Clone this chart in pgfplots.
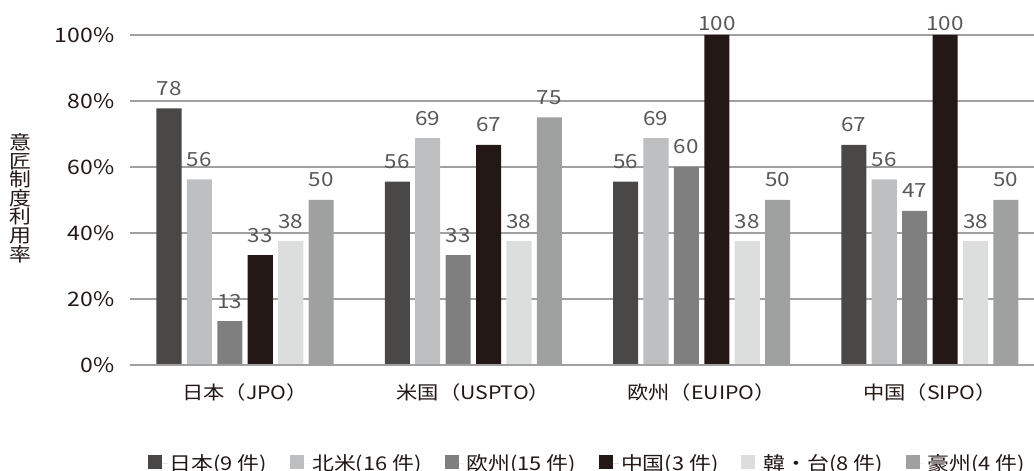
\documentclass[border=0pt]{standalone}
\usepackage{pgfplots}
\pgfplotsset{compat=1.18}
\usepackage{fontspec}
\setmainfont[FakeStretch=1.15]{Noto Sans CJK JP}
\definecolor{cA}{HTML}{4A4846}
\definecolor{cB}{HTML}{BEBFC1}
\definecolor{cC}{HTML}{7F7F7F}
\definecolor{cD}{HTML}{231815}
\definecolor{cE}{HTML}{DCDDDD}
\definecolor{cF}{HTML}{9FA0A0}
\definecolor{gridc}{HTML}{A0A0A0}
\definecolor{lblc}{HTML}{595757}
\begin{document}
\begin{tikzpicture}
\useasboundingbox (-130pt,-106pt) rectangle (904pt,365pt);
\begin{axis}[
  at={(0pt,0pt)}, anchor=south west,
  scale only axis, width=904pt, height=330pt,
  ybar, bar width=0.11,
  xmin=-0.504, xmax=3.456, ymin=0, ymax=100,
  xtick={0,1,2,3},
  xticklabels={日本（JPO）,米国（USPTO）,欧州（EUIPO）,中国（SIPO）},
  x tick label style={font=\fontsize{18.5}{21}\selectfont, text=cD, yshift=-15pt},
  ytick={0,20,40,60,80,100},
  yticklabel={\pgfmathprintnumber{\tick}\%},
  /pgf/number format/assume math mode=true,
  y tick label style={font=\fontsize{20}{22}\selectfont, text=cD, xshift=-12pt},
  major tick length=0pt,
  axis line style={draw=none},
  ymajorgrids, grid style={gridc, line width=1.3pt},
  clip=false,
  nodes near coords={\pgfmathprintnumber[fixed,precision=0]{\pgfplotspointmeta}},
  every node near coord/.append style={font=\fontsize{19.5}{22}\selectfont, text=lblc, anchor=base, yshift=13pt},
  legend columns=6,
  legend style={draw=none, fill=none, at={(0.506,-0.297)}, anchor=center,
    font=\fontsize{19}{21}\selectfont, text=cD,
    /tikz/every even column/.append style={column sep=21pt}},
  legend image code/.code={\fill[#1] (0pt,-6pt) rectangle (14pt,8pt); \path (0pt,0pt) -- (20pt,0pt);},
]
\addplot[fill=cA, draw=none, bar shift=-0.333] coordinates {(0,77.78) (1,55.56) (2,55.56) (3,66.67)};
\addlegendentry{日本(9 件)}
\addplot[fill=cB, draw=none, bar shift=-0.2] coordinates {(0,56.25) (1,68.75) (2,68.75) (3,56.25)};
\addlegendentry{北米(16 件)}
\addplot[fill=cC, draw=none, bar shift=-0.0667] coordinates {(0,13.33) (1,33.33) (2,60) (3,46.67)};
\addlegendentry{欧州(15 件)}
\addplot[fill=cD, draw=none, bar shift=0.0667] coordinates {(0,33.33) (1,66.67)};
\addlegendentry{中国(3 件)}
\addplot[fill=cE, draw=none, bar shift=0.2] coordinates {(0,37.5) (1,37.5) (2,37.5) (3,37.5)};
\addlegendentry{韓・台(8 件)}
\addplot[fill=cF, draw=none, bar shift=0.333] coordinates {(0,50) (1,75) (2,50) (3,50)};
\addlegendentry{豪州(4 件)}
\addplot[fill=cD, draw=none, bar shift=0.0667, forget plot,
  every node near coord/.append style={yshift=-9pt}] coordinates {(2,100) (3,100)};
\draw[gridc, line width=1.3pt] (rel axis cs:0,0) -- (rel axis cs:1,0);
\node[font=\fontsize{19}{18.6}\selectfont, text=cD, align=center] at ([xshift=-110pt]rel axis cs:0,0.506) {意\\匠\\制\\度\\利\\用\\率};
\end{axis}
\end{tikzpicture}
\end{document}
